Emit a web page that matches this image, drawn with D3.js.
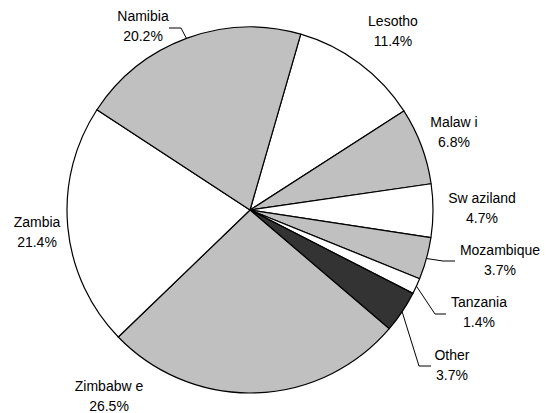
<!DOCTYPE html>
<html>
<head>
<meta charset="utf-8">
<script src="https://cdn.jsdelivr.net/npm/d3@7"></script>
<style>
  html, body { margin: 0; padding: 0; background: #fff; }
  svg { display: block; }
  text { font-family: "Liberation Sans", Arial, sans-serif; font-size: 14px; fill: #000; }
</style>
</head>
<body>
<svg id="chart" width="548" height="413"></svg>
<script>
// ---- data ----
const categories = ["Lesotho", "Malaw i", "Sw aziland", "Mozambique", "Tanzania", "Other", "Zimbabw e", "Zambia", "Namibia"];
const shares = [11.4, 6.8, 4.7, 3.7, 1.4, 3.7, 26.5, 21.4, 20.2];
const fills = ["#ffffff", "#c0c0c0", "#ffffff", "#c0c0c0", "#ffffff", "#333333", "#c0c0c0", "#ffffff", "#c0c0c0"];

// ---- layout (label placement, not data) ----
const labelAt = [[393, 26], [454, 127], [482, 203], [500, 255], [479, 307], [452, 360], [109, 391], [37, 227], [143, 21]];
// leader lines: [knee, end] or null
const leaders = [null, null, null, [[443, 261], [455, 261]], [[435, 314], [446, 314]], [[419, 366], [431, 366]], null, null, [[181, 28], [169, 28]]];

const cx = 250, cy = 210, r = 183;
const startDeg = 16.1;

const svg = d3.select("#chart");
const g = svg.append("g").attr("transform", `translate(${cx},${cy})`);

const data = categories.map((c, i) => ({ name: c, value: shares[i], fill: fills[i], i }));
const pie = d3.pie().value(d => d.value).sort(null)
  .startAngle(startDeg * Math.PI / 180)
  .endAngle(startDeg * Math.PI / 180 + 2 * Math.PI);
const arcs = pie(data);
const arc = d3.arc().innerRadius(0).outerRadius(r);

g.selectAll("path.slice").data(arcs).enter().append("path")
  .attr("class", "slice")
  .attr("d", arc)
  .attr("fill", d => d.data.fill)
  .attr("stroke", "#000")
  .attr("stroke-width", 1.2)
  .attr("stroke-linejoin", "round");

// leader lines
arcs.forEach(d => {
  const L = leaders[d.data.i];
  if (!L) return;
  const a = (d.startAngle + d.endAngle) / 2;
  const p0 = [cx + r * Math.sin(a), cy - r * Math.cos(a)];
  svg.append("polyline")
    .attr("points", [p0, L[0], L[1]].map(p => p.join(",")).join(" "))
    .attr("fill", "none")
    .attr("stroke", "#000")
    .attr("stroke-width", 1);
});

// labels
arcs.forEach(d => {
  const [x, y] = labelAt[d.data.i];
  const t = svg.append("text").attr("text-anchor", "middle");
  t.append("tspan").attr("x", x).attr("y", y).text(d.data.name);
  t.append("tspan").attr("x", x).attr("y", y + 20).text(d3.format(".1f")(d.data.value) + "%");
});
</script>
</body>
</html>
